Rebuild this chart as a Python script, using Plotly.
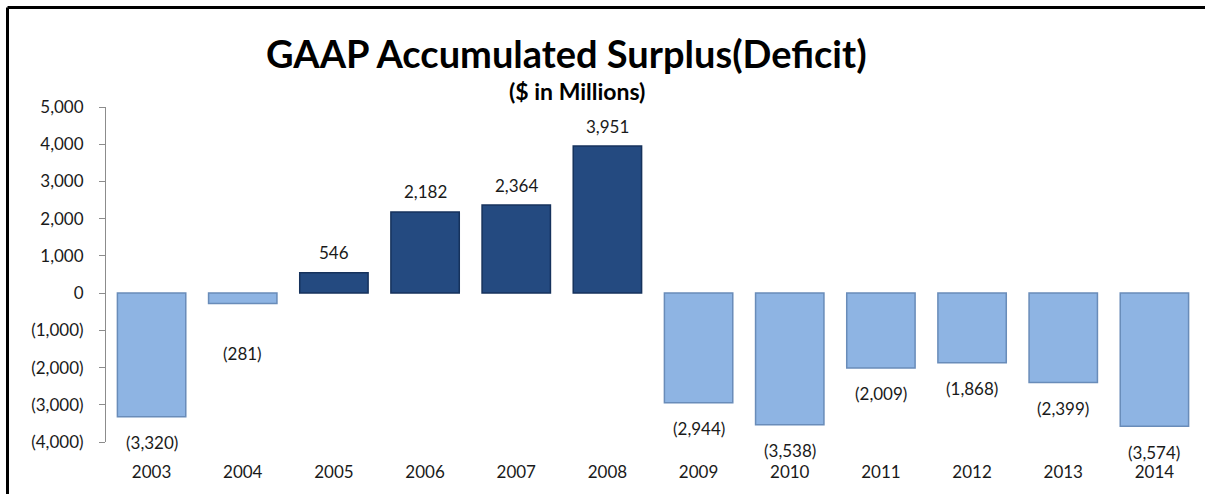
import plotly.graph_objects as go

# GAAP accumulated surplus / (deficit), $ in millions
years = ["2003", "2004", "2005", "2006", "2007", "2008",
         "2009", "2010", "2011", "2012", "2013", "2014"]
values = [-3320, -281, 546, 2182, 2364, 3951,
          -2944, -3538, -2009, -1868, -2399, -3574]

y_ticks = [5000, 4000, 3000, 2000, 1000, 0, -1000, -2000, -3000, -4000]

DARK = "rgb(36,74,128)"
LIGHT = "rgb(142,180,227)"
FONT = "Lato"
TXT = "#1a1a1a"


def fmt(v):
    s = f"{abs(v):,}"
    return f"({s})" if v < 0 else s


colors = [DARK if v >= 0 else LIGHT for v in values]
edges = ["rgb(22,50,92)" if v >= 0 else "rgb(105,140,185)" for v in values]
idx = list(range(len(years)))

fig = go.Figure()
fig.add_trace(go.Bar(
    x=idx, y=values,
    marker=dict(color=colors, line=dict(color=edges, width=1.5)),
    width=0.75,
    hovertext=years, hoverinfo="text+y",
))

# value labels: above positive bars, below negative ones
extra_drop = {"2004": 24}
annotations = []
for i, (yr, v) in enumerate(zip(years, values)):
    shift = 20 if v >= 0 else -(26 + extra_drop.get(yr, 0))
    annotations.append(dict(
        x=i, y=v, xref="x", yref="y", text=fmt(v), showarrow=False,
        yshift=shift, font=dict(family=FONT, size=17, color=TXT),
    ))

PW, PH = 1094, 335  # plot area size in px
annotations.append(dict(
    text="<b>GAAP Accumulated Surplus(Deficit)</b>", xref="paper", yref="paper",
    x=(566 - 106) / PW, y=1 + (107 - 53) / PH, showarrow=False,
    xanchor="center", yanchor="middle",
    font=dict(family=FONT, size=38, color="#000000"),
))
annotations.append(dict(
    text="<b>($ in Millions)</b>", xref="paper", yref="paper",
    x=(577 - 106) / PW, y=1 + (107 - 91) / PH, showarrow=False,
    xanchor="center", yanchor="middle",
    font=dict(family=FONT, size=23, color="#000000"),
))

FX = -(106 - 7.5) / PW
FY = 1 + (107 - 7.5) / PH
fig.update_layout(
    width=1205, height=494,
    margin=dict(l=106, r=5, t=107, b=52),
    paper_bgcolor="white", plot_bgcolor="white",
    showlegend=False,
    annotations=annotations,
    shapes=[
        # outer frame: top and left edges
        dict(type="line", xref="paper", yref="paper",
             x0=FX, x1=1.1, y0=FY, y1=FY, line=dict(color="black", width=3)),
        dict(type="line", xref="paper", yref="paper",
             x0=FX, x1=FX, y0=FY, y1=-0.3, line=dict(color="black", width=3)),
    ],
)

fig.update_xaxes(
    range=[-0.5, len(years) - 0.5],
    tickvals=idx, ticktext=years,
    showgrid=False, zeroline=False, showline=False,
    ticks="", ticklabelstandoff=18,
    tickfont=dict(family=FONT, size=17, color=TXT),
)
fig.update_yaxes(
    range=[-4000, 5000], showgrid=False, zeroline=False,
    showline=True, linecolor="#8c8c8c", linewidth=1,
    ticks="outside", ticklen=6, tickcolor="#8c8c8c",
    tickvals=y_ticks, ticktext=[fmt(t) for t in y_ticks],
    ticklabelstandoff=12,
    tickfont=dict(family=FONT, size=17, color=TXT),
)

fig.write_html("out.html")
